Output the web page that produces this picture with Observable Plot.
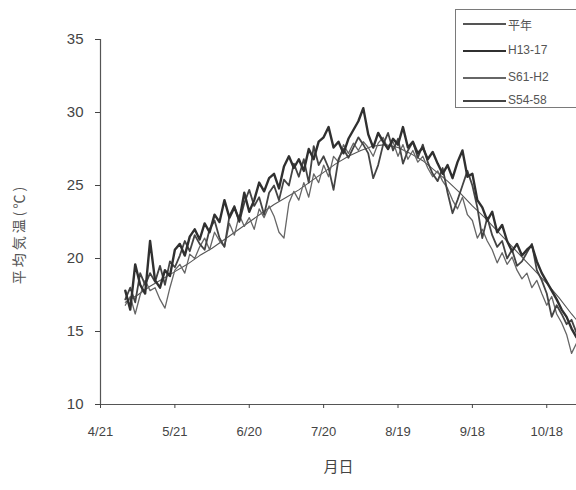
<!DOCTYPE html>
<html>
<head>
<meta charset="utf-8">
<script src="https://cdn.jsdelivr.net/npm/d3@7"></script>
<script src="https://cdn.jsdelivr.net/npm/@observablehq/plot@0.6"></script>
<style>
  html, body { margin: 0; padding: 0; background: #fff; }
  #wrap { position: relative; width: 576px; height: 490px; overflow: hidden; font-family: "Liberation Sans", "Noto Sans CJK JP", sans-serif; }
  #legend { position: absolute; left: 455px; top: 9px; width: 135px; height: 99px; border: 1.5px solid #7a7a7a; background: #fff; box-sizing: border-box; }
  .row { position: absolute; left: 0; height: 0; }
  .sw { position: absolute; left: 7px; width: 43px; background: #444; }
  .lb { position: absolute; left: 52px; top: -8px; font-size: 12px; color: #555; white-space: nowrap; font-family: "Liberation Sans", "Noto Sans CJK JP", sans-serif; }
</style>
</head>
<body>
<div id="wrap"></div>
<script>
// x position = days after 4/21
const tickDays = [0, 30, 60, 90, 120, 150, 180];
const tickLabels = ["4/21", "5/21", "6/20", "7/20", "8/19", "9/18", "10/18"];
const yTicks = [10, 15, 20, 25, 30, 35];

const seriesNames = ["平年", "H13-17", "S61-H2", "S54-58"];

// 平年 (normal), 5-day steps
const normalDays = [10,15,20,25,30,35,40,45,50,55,60,65,70,75,80,85,90,95,100,105,110,115,120,125,130,135,140,145,150,155,160,165,170,175,180,185,190,193];
const normalTemp = [17.0,17.5,18.1,18.6,19.1,19.6,20.2,20.7,21.3,21.9,22.5,23.1,23.7,24.2,24.7,25.3,25.9,26.5,27.0,27.4,27.7,27.8,27.6,27.2,26.7,26.0,25.3,24.5,23.6,22.8,21.9,21.0,20.1,19.2,18.3,17.3,16.2,15.6];

// year-group series, 2-day steps
const days = [10,12,14,16,18,20,22,24,26,28,30,32,34,36,38,40,42,44,46,48,50,52,54,56,58,60,62,64,66,68,70,72,74,76,78,80,82,84,86,88,90,92,94,96,98,100,102,104,106,108,110,112,114,116,118,120,122,124,126,128,130,132,134,136,138,140,142,144,146,148,150,152,154,156,158,160,162,164,166,168,170,172,174,176,178,180,182,184,186,188,190,192];

const tempH13_17 = [17.8,16.5,19.6,18.2,17.6,21.2,18.5,18.0,19.2,18.8,20.6,21.0,20.2,21.5,22.0,21.3,22.4,21.8,23.0,22.5,24.0,22.8,23.5,22.6,24.5,23.2,24.0,25.2,24.6,25.5,25.8,24.8,26.3,27.0,26.2,26.8,26.0,27.5,26.8,28.0,28.3,29.0,27.6,28.0,27.2,28.2,28.8,29.4,30.3,28.5,27.6,28.6,28.0,27.5,28.2,27.8,29.0,27.6,28.0,27.2,27.6,26.8,27.3,26.5,25.8,26.4,25.5,26.6,27.4,25.6,25.8,24.0,23.5,22.6,23.2,21.8,22.3,21.2,20.5,21.0,20.2,20.6,20.9,19.8,19.0,18.4,17.8,17.2,16.5,16.0,15.2,14.6];

const tempS61_H2 = [16.8,17.4,16.2,17.5,18.5,17.8,18.0,17.2,16.6,18.0,19.2,19.6,19.0,20.3,20.0,20.8,21.4,20.6,21.8,21.2,20.8,22.4,21.6,23.0,22.2,22.8,22.0,23.4,22.8,23.6,22.9,21.8,21.4,23.8,24.6,24.0,25.2,24.2,25.8,25.2,26.4,25.6,27.0,26.6,27.8,27.2,27.9,27.4,28.0,27.6,27.0,27.9,28.3,27.5,28.0,27.0,27.8,26.8,27.4,26.6,27.0,26.2,25.6,26.0,25.3,24.8,24.0,23.4,24.2,23.0,22.6,21.4,22.0,21.2,20.6,19.7,20.4,19.6,20.1,19.2,18.6,19.0,18.0,18.5,17.6,16.8,17.4,16.2,15.6,14.8,13.5,14.2];

const tempS54_58 = [17.2,18.0,17.0,19.0,18.2,19.0,18.4,19.5,18.2,19.8,19.4,20.2,21.2,20.5,21.6,21.0,20.6,22.0,22.6,21.4,20.8,22.9,23.6,22.5,23.8,24.7,23.6,24.2,23.0,24.5,25.0,24.0,25.4,25.0,26.5,25.6,26.8,25.2,27.7,26.4,27.0,26.2,24.7,26.8,27.5,26.9,27.6,28.3,27.8,27.2,25.5,26.4,27.8,28.6,27.4,28.2,26.5,27.4,28.0,26.9,27.8,26.6,25.8,25.3,26.2,24.5,23.1,24.0,25.0,26.0,25.0,23.5,21.4,22.8,21.6,20.8,21.2,20.0,20.6,19.5,19.8,20.4,21.0,19.2,18.5,17.6,16.0,16.8,16.2,15.5,15.8,14.9];

const normal = normalDays.map((d, i) => ({day: d, t: normalTemp[i]}));
const mk = arr => days.map((d, i) => ({day: d, t: arr[i]}));
const sH = mk(tempH13_17), sS61 = mk(tempS61_H2), sS54 = mk(tempS54_58);

const styles = {
  "平年": {stroke: "#555", w: 1.1},
  "H13-17": {stroke: "#303030", w: 2.4},
  "S61-H2": {stroke: "#666", w: 1.3},
  "S54-58": {stroke: "#444", w: 1.8}
};

const chart = Plot.plot({
  width: 576,
  height: 490,
  marginLeft: 100,
  marginRight: 0,
  marginTop: 39,
  marginBottom: 86,
  style: {fontFamily: "'Liberation Sans', 'Noto Sans CJK JP', sans-serif", background: "#fff"},
  x: {domain: [0, 192]},
  y: {domain: [10, 35]},
  marks: [
    Plot.line(normal, {x: "day", y: "t", stroke: styles["平年"].stroke, strokeWidth: styles["平年"].w, curve: "linear"}),
    Plot.line(sS61, {x: "day", y: "t", stroke: styles["S61-H2"].stroke, strokeWidth: styles["S61-H2"].w}),
    Plot.line(sS54, {x: "day", y: "t", stroke: styles["S54-58"].stroke, strokeWidth: styles["S54-58"].w}),
    Plot.line(sH, {x: "day", y: "t", stroke: styles["H13-17"].stroke, strokeWidth: styles["H13-17"].w}),
    Plot.ruleY([10], {stroke: "#555", strokeWidth: 1.2}),
    Plot.ruleX([0], {stroke: "#555", strokeWidth: 1.2}),
    Plot.axisY({ticks: yTicks, tickSize: 5, tickPadding: 12, fontSize: 15, color: "#444", label: null}),
    Plot.axisX({ticks: tickDays, tickFormat: d => tickLabels[tickDays.indexOf(d)], tickSize: 4, tickPadding: 18, fontSize: 13, color: "#444", label: null}),
    Plot.text(["平均気温(℃)"], {frameAnchor: "left", textAnchor: "middle", dx: -81, dy: 12, rotate: -90, fontSize: 14, fill: "#555"}),
    Plot.text(["月日"], {frameAnchor: "bottom", dy: 67, fontSize: 15, fill: "#444"})
  ]
});

d3.select(chart).selectAll("text").filter(function() { return this.textContent === "平均気温(℃)"; })
  .style("letter-spacing", "3px").style("font-family", "'Noto Sans CJK JP', sans-serif");
d3.select(chart).selectAll("text").filter(function() { return this.textContent === "月日"; })
  .style("font-family", "'Noto Sans CJK JP', sans-serif");

const wrap = document.getElementById("wrap");
wrap.appendChild(chart);

// legend
const legend = document.createElement("div");
legend.id = "legend";
const rowTops = [14, 41, 68, 91];
seriesNames.forEach((name, i) => {
  const row = document.createElement("div");
  row.className = "row";
  row.style.top = rowTops[i] + "px";
  const sw = document.createElement("div");
  sw.className = "sw";
  sw.style.height = styles[name].w + "px";
  sw.style.top = (-styles[name].w / 2) + "px";
  sw.style.background = styles[name].stroke;
  const lb = document.createElement("div");
  lb.className = "lb";
  lb.textContent = name;
  row.appendChild(sw);
  row.appendChild(lb);
  legend.appendChild(row);
});
wrap.appendChild(legend);
</script>
</body>
</html>
